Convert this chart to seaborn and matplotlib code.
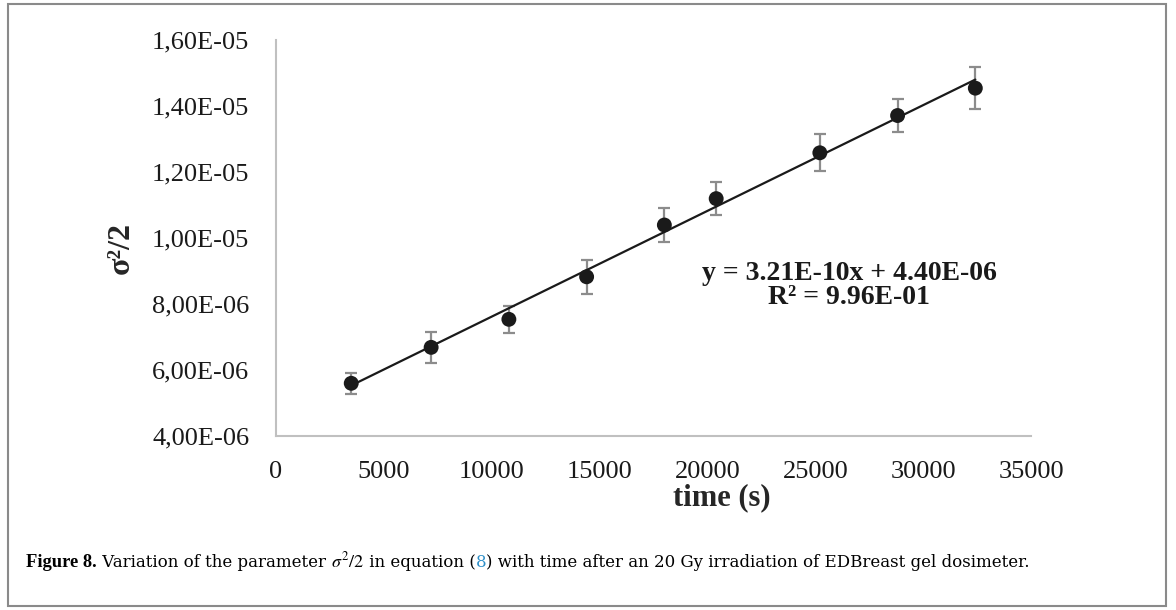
import numpy as np
import pandas as pd
import matplotlib
matplotlib.use("Agg")
import matplotlib.pyplot as plt
from matplotlib.ticker import FuncFormatter
from matplotlib.patches import Rectangle
import seaborn as sns

#%% data
time_s = [3500, 7200, 10800, 14400, 18000, 20400, 25200, 28800, 32400]
sigma2_half = [5.59e-06, 6.68e-06, 7.53e-06, 8.82e-06, 1.039e-05,
               1.119e-05, 1.258e-05, 1.371e-05, 1.454e-05]
sigma2_err = [0.32e-06, 0.46e-06, 0.40e-06, 0.51e-06, 0.52e-06,
              0.49e-06, 0.56e-06, 0.51e-06, 0.64e-06]

slope = 3.21e-10
intercept = 4.40e-06
eq_text = "y = 3.21E-10x + 4.40E-06\nR\u00b2 = 9.96E-01"

x_ticks = [0, 5000, 10000, 15000, 20000, 25000, 30000, 35000]
y_ticks = [4e-06, 6e-06, 8e-06, 1e-05, 1.2e-05, 1.4e-05, 1.6e-05]

df = pd.DataFrame({'time': time_s, 'sig': sigma2_half, 'err': sigma2_err})
fit_df = pd.DataFrame({'time': [time_s[0], time_s[-1]]})
fit_df['sig'] = slope * fit_df['time'] + intercept

#%% style
sns.set_style("white")
plt.rcParams['font.family'] = ['Liberation Serif', 'DejaVu Serif']
plt.rcParams['mathtext.fontset'] = 'stix'

fig = plt.figure(figsize=(11.76, 6.10), dpi=100)
ax = fig.add_axes([0.2344, 0.2857, 0.6427, 0.6487])

ax.errorbar(df['time'], df['sig'], yerr=df['err'], fmt='none',
            ecolor='#8c8c8c', elinewidth=1.6, capsize=4.3, capthick=1.6, zorder=2)
sns.scatterplot(data=df, x='time', y='sig', color='#1a1a1a', s=115,
                edgecolor='none', ax=ax, zorder=3)
sns.lineplot(data=fit_df, x='time', y='sig', color='#1a1a1a', linewidth=1.6,
             ax=ax, zorder=4)

ax.set_xlim(0, 35000)
ax.set_ylim(4e-06, 1.6e-05)
ax.set_xticks(x_ticks)
ax.set_yticks(y_ticks)
ax.yaxis.set_major_formatter(FuncFormatter(lambda v, p: "{:.2E}".format(v).replace('.', ',')))
ax.tick_params(axis='both', length=0, labelsize=19, colors='#1a1a1a')
ax.tick_params(axis='y', pad=19)
ax.tick_params(axis='x', pad=18)

for side in ['top', 'right']:
    ax.spines[side].set_visible(False)
for side in ['left', 'bottom']:
    ax.spines[side].set_color('#c0c0c0')
    ax.spines[side].set_linewidth(1.5)

ax.set_xlabel("time (s)", fontsize=22, fontweight='bold', va='center')
ax.xaxis.set_label_coords(0.5905, -0.157)
ax.set_ylabel("\u03c3\u00b2/2", fontsize=23, fontweight='bold', va='center')
ax.yaxis.set_label_coords(-0.2047, 0.474)

ax.text(0.7585, 0.379, eq_text, transform=ax.transAxes, ha='center', va='center',
        fontsize=20, fontweight='bold', linespacing=0.95, color='#1a1a1a')

#%% caption, pieced together left to right
renderer = fig.canvas.get_renderer()
cap_y = 1 - 567 / 610.0
x_px = 26.0
pieces = [("Figure 8.", 'bold', 'black', 'Liberation Serif', 13.3),
          (" Variation of the parameter ", 'normal', 'black', 'DejaVu Serif', 12),
          (r"$\sigma^2/2$", 'normal', 'black', 'DejaVu Serif', 13),
          (" in equation (", 'normal', 'black', 'DejaVu Serif', 12),
          ("8", 'normal', '#2e8fc8', 'DejaVu Serif', 12),
          (") with time after an 20 Gy irradiation of EDBreast gel dosimeter.", 'normal', 'black', 'DejaVu Serif', 12)]
for txt, wt, col, fam, fs in pieces:
    t = fig.text(x_px / 1176.0, cap_y, txt, fontsize=fs, fontweight=wt, color=col,
                 family=fam, ha='left', va='baseline')
    x_px += t.get_window_extent(renderer).width

# figure frame
fig.patches.append(Rectangle((8 / 1176.0, 4 / 610.0), 1158 / 1176.0, 602 / 610.0,
                             transform=fig.transFigure, fill=False,
                             edgecolor='#8a8a8a', linewidth=1.5))

plt.savefig('out.png', dpi=100)
